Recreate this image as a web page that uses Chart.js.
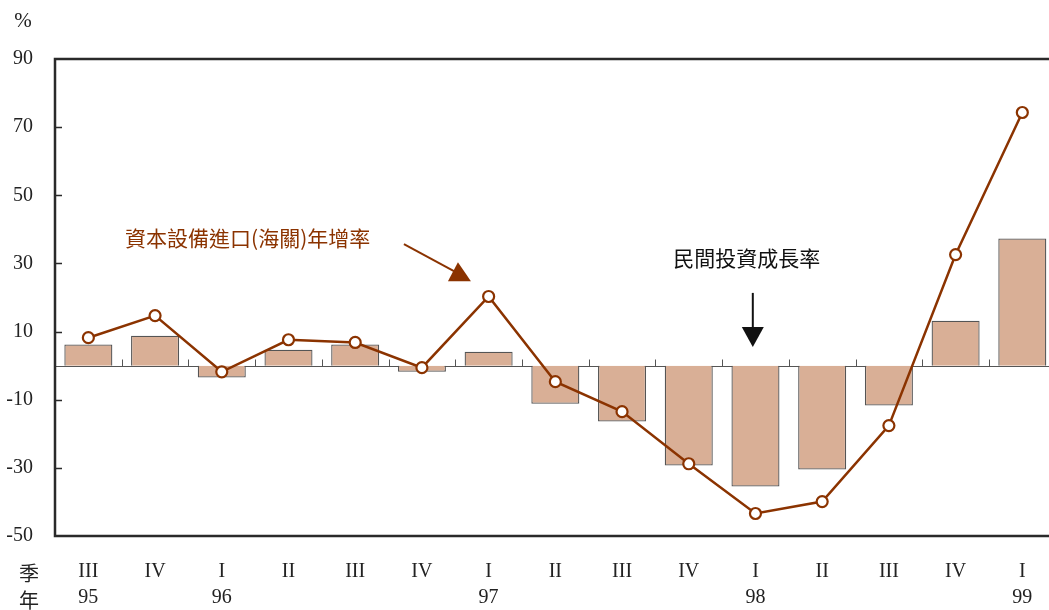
<!DOCTYPE html>
<html><head><meta charset="utf-8">
<script src="https://cdn.jsdelivr.net/npm/chart.js@4/dist/chart.umd.min.js"></script>
<style>html,body{margin:0;padding:0;overflow:hidden;background:#fff}</style>
</head><body>
<canvas id="c" width="1049" height="610" style="display:block;width:1049px;height:610px"></canvas>
<script>
const quarters = ['III','IV','I','II','III','IV','I','II','III','IV','I','II','III','IV','I'];
const years = ['95','','96','','','','97','','','','98','','','','99'];
const privateInvestmentGrowth = [6.2,8.8,-3.5,4.7,6.2,-1.8,4.1,-11.2,-16.4,-29.3,-35.5,-30.5,-11.7,13.2,37.3];
const capitalEquipImportGrowth = [8.2,14.7,-1.8,7.6,6.8,-0.6,20.3,-4.7,-13.5,-28.8,-43.4,-39.9,-17.6,32.6,74.3];
const yTicks = [-50,-30,-10,10,30,50,70,90];
const importLabel = '資本設備進口(海關)年增率';
const investLabel = '民間投資成長率';

const SERIF = "'Liberation Serif','DejaVu Serif',serif";
const CJK = "'Noto Sans CJK TC','Noto Sans CJK SC',sans-serif";
const BROWN = '#8B3300';
const AXIS = '#2a2a2a';

const deco = {
  id: 'deco',
  beforeDatasetsDraw(chart) {
    const {ctx, chartArea: a, scales: {x, y}} = chart;
    const y0 = Math.round(y.getPixelForValue(0)) + 0.5;
    ctx.save();
    ctx.strokeStyle = '#555';
    ctx.lineWidth = 1;
    ctx.beginPath();
    ctx.moveTo(a.left, y0); ctx.lineTo(a.right, y0);
    for (let i = 1; i < quarters.length; i++) {
      const px = Math.round(x.getPixelForValue(i - 0.5)) + 0.5;
      ctx.moveTo(px, y0); ctx.lineTo(px, y0 - 7);
    }
    ctx.stroke();
    ctx.restore();
  },
  afterDatasetsDraw(chart) {
    const {ctx, chartArea: a, scales: {x, y}} = chart;
    ctx.save();
    // frame
    ctx.strokeStyle = AXIS;
    ctx.lineWidth = 2.5;
    ctx.beginPath();
    ctx.moveTo(a.right + 5, a.top); ctx.lineTo(a.left, a.top);
    ctx.lineTo(a.left, a.bottom); ctx.lineTo(a.right + 5, a.bottom);
    ctx.stroke();
    // inward ticks
    ctx.lineWidth = 1.5;
    ctx.beginPath();
    yTicks.forEach(v => {
      if (v === y.min || v === y.max) return;
      const py = Math.round(y.getPixelForValue(v)) + 0.5;
      ctx.moveTo(a.left, py); ctx.lineTo(a.left + 7, py);
    });
    ctx.stroke();

    // brown annotation
    ctx.fillStyle = BROWN;
    ctx.font = '21px ' + CJK;
    ctx.textAlign = 'left';
    ctx.textBaseline = 'middle';
    ctx.fillText(importLabel, x.getPixelForValue(0.55), y.getPixelForValue(37.5));
    const bx = x.getPixelForValue(5.57), by = y.getPixelForValue(24.8);
    ctx.strokeStyle = BROWN;
    ctx.lineWidth = 2;
    ctx.beginPath();
    ctx.moveTo(bx - 56, by - 37); ctx.lineTo(bx - 6, by - 10);
    ctx.stroke();
    ctx.beginPath();
    ctx.moveTo(bx - 12, by); ctx.lineTo(bx + 11, by); ctx.lineTo(bx - 2, by - 19);
    ctx.closePath(); ctx.fill();

    // black annotation
    const kx = x.getPixelForValue(9.96), ky = y.getPixelForValue(5.5);
    ctx.fillStyle = '#111';
    ctx.strokeStyle = '#111';
    ctx.textAlign = 'center';
    ctx.fillText(investLabel, kx - 6, ky - 89);
    ctx.beginPath();
    ctx.moveTo(kx, ky - 54); ctx.lineTo(kx, ky - 18);
    ctx.stroke();
    ctx.beginPath();
    ctx.moveTo(kx - 11, ky - 20); ctx.lineTo(kx + 11, ky - 20); ctx.lineTo(kx, ky);
    ctx.closePath(); ctx.fill();

    // unit and row captions
    ctx.fillStyle = '#222';
    ctx.font = '21px ' + SERIF;
    ctx.fillText('%', 23, 21);
    ctx.font = '20px ' + CJK;
    ctx.fillText('季', 29, a.bottom + 37);
    ctx.fillText('年', 29, a.bottom + 64);
    ctx.restore();
  }
};

new Chart(document.getElementById('c'), {
  data: {
    datasets: [
      {
        type: 'line',
        data: capitalEquipImportGrowth.map((v, i) => ({x: i, y: v})),
        borderColor: BROWN,
        borderWidth: 2.5,
        pointRadius: 5.5,
        pointBackgroundColor: '#fff',
        pointBorderColor: BROWN,
        pointBorderWidth: 2.2,
        tension: 0,
        order: 0
      },
      {
        type: 'bar',
        data: privateInvestmentGrowth.map((v, i) => ({x: i, y: v})),
        backgroundColor: '#D9AF96',
        borderColor: '#555',
        borderWidth: 1.3,
        categoryPercentage: 1,
        barPercentage: 0.72,
        order: 1
      }
    ]
  },
  options: {
    responsive: false,
    maintainAspectRatio: false,
    animation: false,
    layout: {autoPadding: false, padding: {top: 59, left: 0, right: 0, bottom: 0}},
    plugins: {legend: {display: false}, tooltip: {enabled: false}},
    scales: {
      x: {
        type: 'linear',
        min: -0.5,
        max: 14.4,
        offset: false,
        bounds: 'data',
        afterBuildTicks(s) { s.ticks = quarters.map((q, i) => ({value: i})); },
        grid: {display: false, drawTicks: false},
        border: {display: false},
        ticks: {
          padding: 23,
          color: '#222',
          maxRotation: 0,
          autoSkip: false,
          callback: (v) => [quarters[v], years[v]],
          font: {family: SERIF, size: 20, lineHeight: '26px'}
        },
        afterFit(s) { s.height = 74; s.paddingLeft = 0; s.paddingRight = 0; }
      },
      y: {
        min: -50, max: 90,
        afterBuildTicks(s) { s.ticks = yTicks.map(v => ({value: v})); },
        grid: {display: false, drawTicks: false},
        border: {display: false},
        ticks: {
          padding: 22,
          color: '#222',
          font: {family: SERIF, size: 20}
        },
        afterFit(s) { s.width = 55; }
      }
    }
  },
  plugins: [deco]
});
</script>
</body></html>
